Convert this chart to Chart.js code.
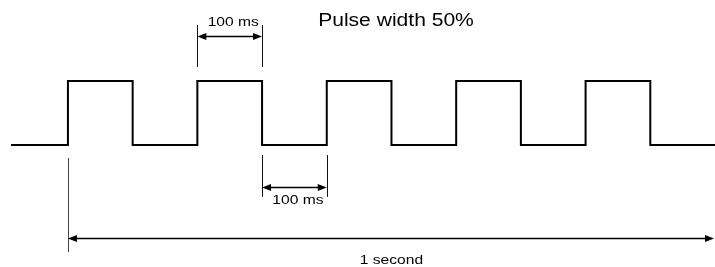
<!DOCTYPE html>
<html>
<head>
<meta charset="utf-8">
<script src="https://cdn.jsdelivr.net/npm/chart.js@4/dist/chart.umd.min.js"></script>
<style>
  html, body { margin: 0; padding: 0; background: #fff; }
  #wrap { width: 715px; height: 267px; }
</style>
</head>
<body>
<div id="wrap"><canvas id="c" width="715" height="267"></canvas></div>
<script>
// Waveform: edge times (ms) and the level the signal takes at each time
const edgeTimes = [-88, 0, 100, 200, 300, 400, 500, 600, 700, 800, 900, 1000];
const levels    = [0,   1, 0,   1,   0,   1,   0,   1,   0,   1,   0,   0];

// Dimension annotations (ms intervals) and texts
const titleText = "Pulse width 50%";
const pulseInterval = [200, 300];
const pulseLabel = "100 ms";
const gapInterval = [300, 400];
const gapLabel = "100 ms";
const periodInterval = [0, 1000];
const periodLabel = "1 second";

const FONT = '"Liberation Sans", Arial, Helvetica, sans-serif';

function drawArrowHead(ctx, x, y, dir) {
  const len = 9, half = 3.5;
  ctx.beginPath();
  ctx.moveTo(x, y);
  ctx.lineTo(x - dir * len, y - half);
  ctx.lineTo(x - dir * len, y + half);
  ctx.closePath();
  ctx.fill();
}

function vLine(ctx, x, y1, y2, color, w) {
  ctx.save();
  ctx.strokeStyle = color;
  ctx.lineWidth = w;
  ctx.beginPath();
  ctx.moveTo(Math.round(x) + 0.5, y1);
  ctx.lineTo(Math.round(x) + 0.5, y2);
  ctx.stroke();
  ctx.restore();
}

function dimArrow(ctx, x1, x2, y) {
  ctx.save();
  ctx.strokeStyle = '#000';
  ctx.fillStyle = '#000';
  ctx.lineWidth = 1.4;
  const yy = Math.round(y) + 0.5;
  ctx.beginPath();
  ctx.moveTo(x1 + 4, yy);
  ctx.lineTo(x2 - 4, yy);
  ctx.stroke();
  drawArrowHead(ctx, x1, yy, -1);
  drawArrowHead(ctx, x2, yy, 1);
  ctx.restore();
}

function stretchedText(ctx, text, x, y, size, sx) {
  ctx.save();
  ctx.font = size + 'px ' + FONT;
  ctx.fillStyle = '#000';
  ctx.textAlign = 'center';
  ctx.textBaseline = 'middle';
  ctx.translate(x, y);
  ctx.scale(sx, 1);
  ctx.fillText(text, 0, 0);
  ctx.restore();
}

const annotations = {
  id: 'annotations',
  afterDatasetsDraw(chart) {
    const ctx = chart.ctx;
    const xs = chart.scales.x, ys = chart.scales.y;
    const X = v => xs.getPixelForValue(v);
    const Y = v => ys.getPixelForValue(v);

    // Title
    stretchedText(ctx, titleText, X(507), Y(1.93), 18, 1.17);

    // Pulse width dimension (above)
    const a1 = X(pulseInterval[0]), a2 = X(pulseInterval[1]);
    vLine(ctx, a1, Y(1.875), Y(1.219), '#111', 1);
    vLine(ctx, a2, Y(1.875), Y(1.219), '#111', 1);
    dimArrow(ctx, a1, a2, Y(1.703));
    stretchedText(ctx, pulseLabel, (a1 + a2) / 2 + 3.5, Y(1.92), 13, 1.2);

    // Gap dimension (below)
    const b1 = X(gapInterval[0]), b2 = X(gapInterval[1]);
    vLine(ctx, b1, Y(-0.156), Y(-0.81), '#111', 1);
    vLine(ctx, b2, Y(-0.156), Y(-0.81), '#111', 1);
    dimArrow(ctx, b1, b2, Y(-0.652));
    stretchedText(ctx, gapLabel, (b1 + b2) / 2 + 3.5, Y(-0.86), 13, 1.2);

    // Period dimension
    const c1 = X(periodInterval[0]), c2 = X(periodInterval[1]);
    vLine(ctx, c1, Y(-0.203), Y(-1.672), '#444', 1);
    dimArrow(ctx, c1, c2 - 1, Y(-1.453));
    stretchedText(ctx, periodLabel, (c1 + c2) / 2, Y(-1.81), 13, 1.2);
  }
};

new Chart(document.getElementById('c'), {
  type: 'line',
  data: {
    datasets: [{
      data: edgeTimes.map((t, i) => ({ x: t, y: levels[i] })),
      stepped: true,
      borderColor: '#000',
      borderWidth: 2,
      borderJoinStyle: 'miter',
      borderCapStyle: 'butt',
      pointRadius: 0,
      fill: false
    }]
  },
  options: {
    responsive: false,
    animation: false,
    devicePixelRatio: 1,
    layout: { padding: { left: 11, right: 0, top: 0, bottom: 0 } },
    scales: {
      x: { type: 'linear', min: -88, max: 1000, display: false },
      y: { type: 'linear', min: -1.906, max: 2.266, display: false }
    },
    plugins: {
      legend: { display: false },
      tooltip: { enabled: false },
      title: { display: false }
    }
  },
  plugins: [annotations]
});
</script>
</body>
</html>
